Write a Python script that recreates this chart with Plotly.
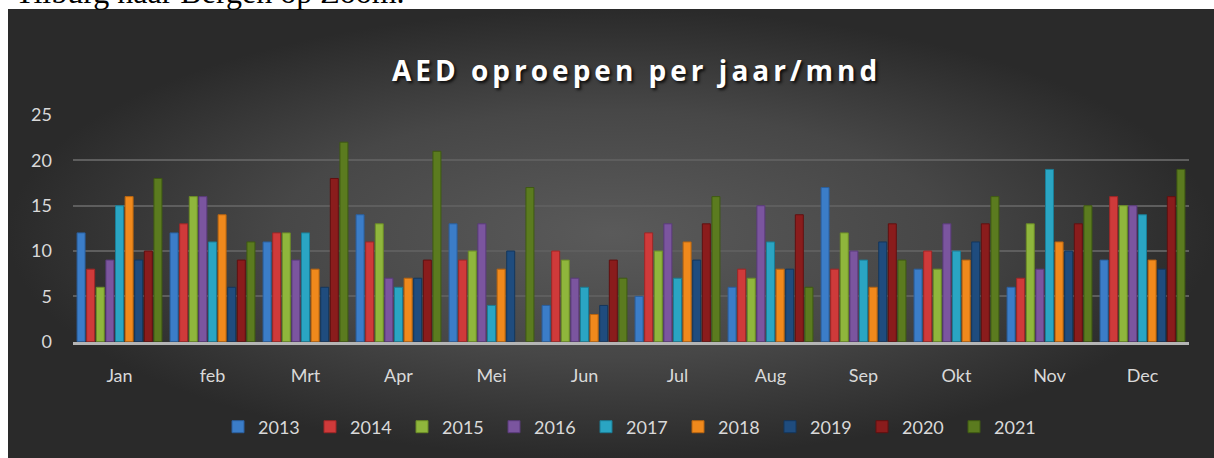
import plotly.graph_objects as go

months = ["Jan", "feb", "Mrt", "Apr", "Mei", "Jun", "Jul", "Aug", "Sep", "Okt", "Nov", "Dec"]
years = ["2013", "2014", "2015", "2016", "2017", "2018", "2019", "2020", "2021"]

v2013 = [12, 12, 11, 14, 13, 4, 5, 6, 17, 8, 6, 9]
v2014 = [8, 13, 12, 11, 9, 10, 12, 8, 8, 10, 7, 16]
v2015 = [6, 16, 12, 13, 10, 9, 10, 7, 12, 8, 13, 15]
v2016 = [9, 16, 9, 7, 13, 7, 13, 15, 10, 13, 8, 15]
v2017 = [15, 11, 12, 6, 4, 6, 7, 11, 9, 10, 19, 14]
v2018 = [16, 14, 8, 7, 8, 3, 11, 8, 6, 9, 11, 9]
v2019 = [9, 6, 6, 7, 10, 4, 9, 8, 11, 11, 10, 8]
v2020 = [10, 9, 18, 9, None, 9, 13, 14, 13, 13, 13, 16]
v2021 = [18, 11, 22, 21, 17, 7, 16, 6, 9, 16, 15, 19]

series = [v2013, v2014, v2015, v2016, v2017, v2018, v2019, v2020, v2021]
colors = ["#3b7dc8", "#cf3a3a", "#8fb63c", "#7b559f", "#2aa5c3", "#f0891c",
          "#1f4c7e", "#8a1c1c", "#5b7b1f"]
edge = ["#2a5f9e", "#9e2626", "#6b8c26", "#5a3b7a", "#1b7d95", "#b86510",
        "#14365c", "#611010", "#3f5a12"]

W, H = 1214, 458
fig = go.Figure()

# chart panel background (decoration) on a pixel-coordinate helper axis
fig.add_trace(go.Scatter(
    x=[8, W, W, 8, 8], y=[9, 9, H, H, 9], mode="lines", fill="toself",
    line=dict(width=0, color="rgba(0,0,0,0)"),
    fillgradient=dict(type="radial", colorscale=[[0, "#5a5a5a"], [0.55, "#474747"], [1, "#2a2a2a"]]),
    hoverinfo="skip", showlegend=False, xaxis="x", yaxis="y"))

for name, vals, c, e in zip(years, series, colors, edge):
    fig.add_trace(go.Bar(
        x=months, y=vals, name=name, xaxis="x2", yaxis="y2",
        marker=dict(color=c, line=dict(color=e, width=1))))

fig.update_layout(
    width=W, height=H, margin=dict(l=0, r=0, t=0, b=0, autoexpand=False),
    paper_bgcolor="white", plot_bgcolor="rgba(0,0,0,0)",
    barmode="group", bargap=0.07, bargroupgap=0.17,
    xaxis=dict(domain=[0, 1], range=[0, W], visible=False, fixedrange=True),
    yaxis=dict(domain=[0, 1], range=[H, 0], visible=False, fixedrange=True),
    xaxis2=dict(domain=[73 / W, 1189 / W], anchor="y2", showgrid=False,
                showline=True, linecolor="#b5b5b5", linewidth=3,
                tickfont=dict(family="Lato", size=18, color="#d9d9d9"),
                ticks="", ticklabelstandoff=16),
    yaxis2=dict(domain=[(H - 341.7) / H, (H - 115) / H], anchor="x2", range=[0, 25],
                tickvals=[0, 5, 10, 15, 20, 25], showgrid=True, gridcolor="#5e5e5e",
                gridwidth=1.5, zeroline=False, showline=False,
                tickfont=dict(family="Lato", size=18, color="#d9d9d9"),
                ticks="", ticklabelstandoff=20),
    legend=dict(orientation="h", x=632 / W, xanchor="center", y=(H - 427) / H,
                yanchor="middle", font=dict(family="Lato", size=18, color="#d9d9d9"),
                bgcolor="rgba(0,0,0,0)", itemwidth=30, traceorder="normal",
                entrywidth=47),
    annotations=[
        dict(text='<span style="letter-spacing:4px">AED oproepen per jaar/mnd</span>',
             x=636 / W, y=(H - 70) / H, xref="paper", yref="paper",
             xanchor="center", yanchor="middle", showarrow=False,
             font=dict(family="Open Sans", size=28, color="white", weight="bold",
                       shadow="2px 2px 3px rgba(0,0,0,0.8)")),
        dict(text="Tilburg naar Bergen op Zoom.", x=13 / W, y=(H + 8) / H,
             xref="paper", yref="paper", xanchor="left", yanchor="middle",
             showarrow=False,
             font=dict(family="Liberation Serif", size=32, color="black")),
    ],
)

fig.write_html("out.html", config={"displayModeBar": False},
               post_script="document.body.style.margin='0';")
